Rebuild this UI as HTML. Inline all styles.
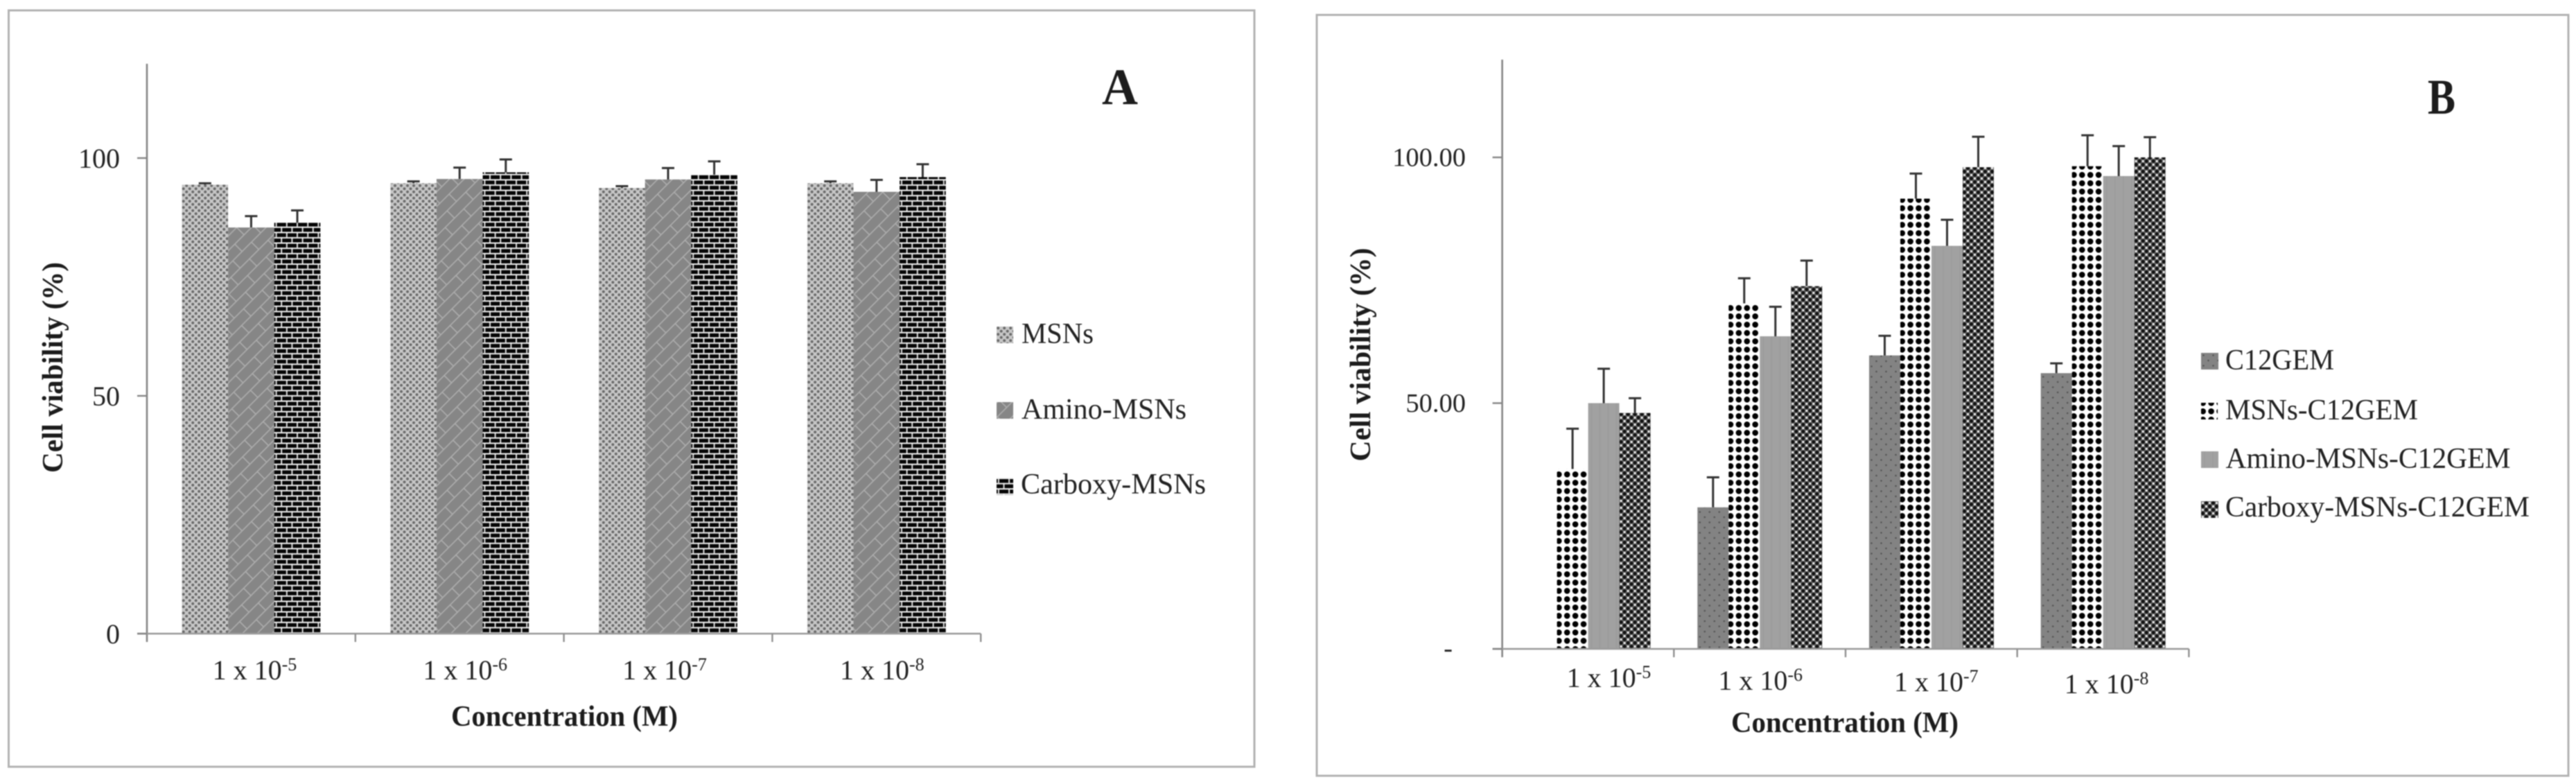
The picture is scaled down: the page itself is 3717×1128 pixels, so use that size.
<!DOCTYPE html>
<html lang="en">
<head>
<meta charset="utf-8">
<title>Cell viability charts</title>
<style>
html,body{margin:0;padding:0;background:#fff;width:3717px;height:1128px;overflow:hidden}
svg{display:block;filter:blur(0.7px)}
text{font-family:"Liberation Serif",serif;fill:#222}
.b{font-weight:bold;fill:#1c1c1c}
</style>
</head>
<body>
<svg id="figure" xmlns="http://www.w3.org/2000/svg" width="3717" height="1128" viewBox="0 0 3717 1128">
<defs>
<pattern id="p-msns" patternUnits="userSpaceOnUse" width="9" height="9">
<rect width="9" height="9" fill="#c6c6c6"/>
<circle cx="2.2" cy="2.2" r="2" fill="#6a6a6a"/>
<circle cx="6.7" cy="6.7" r="2" fill="#6a6a6a"/>
</pattern>
<pattern id="p-amino" patternUnits="userSpaceOnUse" width="38" height="30" patternTransform="rotate(-45)">
<rect width="38" height="30" fill="#868686"/>
<rect y="0" width="38" height="1.6" fill="#adadad"/>
<rect y="15" width="38" height="1.6" fill="#adadad"/>
<rect x="4" y="0" width="1.6" height="15" fill="#adadad"/>
<rect x="23" y="15" width="1.6" height="15" fill="#adadad"/>
</pattern>
<pattern id="p-carboxy" patternUnits="userSpaceOnUse" width="15.2" height="15.2">
<rect width="15.2" height="15.2" fill="#060606"/>
<rect y="0" width="15.2" height="2" fill="#f2f2f2"/>
<rect y="7.6" width="15.2" height="2" fill="#f2f2f2"/>
<rect x="2" y="0" width="1.8" height="7.6" fill="#f2f2f2"/>
<rect x="9.6" y="7.6" width="1.8" height="7.6" fill="#f2f2f2"/>
</pattern>
<pattern id="p-c12" patternUnits="userSpaceOnUse" width="14" height="15">
<rect width="14" height="15" fill="#838383"/>
<circle cx="3.5" cy="3.5" r="1.3" fill="#555"/>
<circle cx="10.5" cy="11" r="1.3" fill="#555"/>
</pattern>
<pattern id="p-msnsc12" patternUnits="userSpaceOnUse" width="11.9" height="12">
<rect width="11.9" height="12" fill="#fff"/>
<circle cx="2.7" cy="0.3" r="4.3" fill="#000"/>
<circle cx="14.6" cy="0.3" r="4.3" fill="#000"/>
<circle cx="2.7" cy="12.3" r="4.3" fill="#000"/>
<circle cx="14.6" cy="12.3" r="4.3" fill="#000"/>
</pattern>
<pattern id="p-aminoc12" patternUnits="userSpaceOnUse" width="12" height="12">
<rect width="12" height="12" fill="#a1a1a1"/>
<rect x="4" width="2" height="12" fill="#9c9c9c"/>
</pattern>
<pattern id="p-carboxyc12" patternUnits="userSpaceOnUse" width="10" height="10">
<rect width="10" height="10" fill="#606060"/>
<circle cx="7.5" cy="2.5" r="2.5" fill="#111"/>
<circle cx="2.5" cy="7.5" r="2.5" fill="#111"/>
<circle cx="2.5" cy="2.5" r="1.6" fill="#eee"/>
<circle cx="7.5" cy="7.5" r="1.6" fill="#eee"/>
</pattern>
</defs>

<rect width="3717" height="1128" fill="#fff"/>
<rect x="12.5" y="15" width="1797.5" height="1091" fill="#fff" stroke="#b2b2b2" stroke-width="3"/>
<rect x="1900" y="21.5" width="1806" height="1097.5" fill="#fff" stroke="#b2b2b2" stroke-width="3"/>

<g id="panel-a"></g>
<g id="panel-b"></g>

<text class="b" x="1590" y="150" font-size="74" textLength="52" lengthAdjust="spacingAndGlyphs">A</text>
<text class="b" x="3503" y="164" font-size="72" textLength="40" lengthAdjust="spacingAndGlyphs">B</text>

<text class="b" x="651" y="1047" font-size="42" textLength="327" lengthAdjust="spacingAndGlyphs">Concentration (M)</text>
<text class="b" x="2498" y="1056" font-size="42" textLength="328" lengthAdjust="spacingAndGlyphs">Concentration (M)</text>
<text class="b" transform="translate(90 682) rotate(-90)" font-size="42" textLength="304" lengthAdjust="spacingAndGlyphs">Cell viability (%)</text>
<text class="b" transform="translate(1977 665.5) rotate(-90)" font-size="42" textLength="308" lengthAdjust="spacingAndGlyphs">Cell viability (%)</text>

<g>
<g>
<rect transform="translate(1438 471)" width="24" height="24" fill="url(#p-msns)"/>
<text x="1474" y="495" font-size="42" textLength="104" lengthAdjust="spacingAndGlyphs">MSNs</text>
</g>
<g>
<rect transform="translate(1438 580)" width="24" height="24" fill="url(#p-amino)"/>
<text x="1474" y="604" font-size="42" textLength="238" lengthAdjust="spacingAndGlyphs">Amino-MSNs</text>
</g>
<g>
<rect transform="translate(1438 689)" width="24" height="25" fill="url(#p-carboxy)"/>
<text x="1473" y="712" font-size="42" textLength="267" lengthAdjust="spacingAndGlyphs">Carboxy-MSNs</text>
</g>
</g>

<g>
<g>
<rect transform="translate(3176 509)" width="25" height="24" fill="url(#p-c12)"/>
<text x="3211" y="533" font-size="42" textLength="157" lengthAdjust="spacingAndGlyphs">C12GEM</text>
</g>
<g>
<rect transform="translate(3176 581)" width="24" height="24" fill="url(#p-msnsc12)"/>
<text x="3211" y="605" font-size="42" textLength="278" lengthAdjust="spacingAndGlyphs">MSNs-C12GEM</text>
</g>
<g>
<rect transform="translate(3176 651)" width="25" height="24" fill="url(#p-aminoc12)"/>
<text x="3211.5" y="675" font-size="42" textLength="411" lengthAdjust="spacingAndGlyphs">Amino-MSNs-C12GEM</text>
</g>
<g>
<rect transform="translate(3176 723)" width="25" height="24" fill="url(#p-carboxyc12)"/>
<text x="3211" y="745" font-size="42" textLength="439" lengthAdjust="spacingAndGlyphs">Carboxy-MSNs-C12GEM</text>
</g>
</g>

<script>
// Shared categories
const categoryBase = ['1 x 10', '1 x 10', '1 x 10', '1 x 10'];
const categoryExponents = ['-5', '-6', '-7', '-8'];

// Panel A data
const aSeriesKeys = ['msns', 'amino-msns', 'carboxy-msns'];
const aMsnsValues = [94.4, 94.7, 93.7, 94.7];
const aMsnsErrors = [0.3, 0.4, 0.4, 0.4];
const aAminoValues = [85.4, 95.6, 95.5, 92.9];
const aAminoErrors = [2.4, 2.4, 2.4, 2.5];
const aCarboxyValues = [86.4, 97.0, 96.5, 96.0];
const aCarboxyErrors = [2.6, 2.7, 2.8, 2.7];
const aTickValues = [0, 50, 100];
const aTickLabels = ['0', '50', '100'];

// Panel B data
const bSeriesKeys = ['c12gem', 'msns-c12gem', 'amino-msns-c12gem', 'carboxy-msns-c12gem'];
const bC12Values = [0, 28.8, 59.7, 56.1];
const bC12Errors = [0, 6.1, 4.0, 2.0];
const bMsnsValues = [36.6, 70.3, 91.6, 98.2];
const bMsnsErrors = [8.2, 5.1, 5.1, 6.3];
const bAminoValues = [50.0, 63.6, 82.0, 96.2];
const bAminoErrors = [7.0, 6.0, 5.3, 6.1];
const bCarboxyValues = [48.0, 73.8, 98.0, 100.0];
const bCarboxyErrors = [3.0, 5.2, 6.2, 4.1];
const bTickValues = [0, 50, 100];
const bTickLabels = ['-', '50.00', '100.00'];

const NS = 'http://www.w3.org/2000/svg';
function make(tag, parent, attrs) {
  const node = document.createElementNS(NS, tag);
  Object.keys(attrs).forEach(function (k) { node.setAttribute(k, attrs[k]); });
  parent.appendChild(node);
  return node;
}

function drawChart(cfg) {
  const root = document.getElementById(cfg.id);
  const yScale = function (v) { return cfg.baseY - v * cfg.pxPerUnit; };
  const groupLeft = function (i) { return cfg.axisX + i * cfg.groupW; };
  const barLeft = function (i, s) { return groupLeft(i) + cfg.barOffset + s * cfg.barW; };

  // bars then error bars
  cfg.series.forEach(function (series, s) {
    series.values.forEach(function (v, i) {
      if (v <= 0) { return; }
      const bx = barLeft(i, s);
      const top = yScale(v);
      const bar = make('rect', root, {
        transform: 'translate(' + bx + ' 0)', x: 0, y: top,
        width: cfg.barW, height: cfg.baseY - top, fill: 'url(#' + series.pattern + ')'
      });
      
      
    });
  });
  cfg.series.forEach(function (series, s) {
    series.values.forEach(function (v, i) {
      if (v <= 0) { return; }
      const cx = barLeft(i, s) + cfg.barW / 2;
      const yTop = yScale(v + series.errors[i]);
      const err = make('path', root, {
        d: 'M' + (cx - 9) + ' ' + yTop + 'H' + (cx + 9) + 'M' + cx + ' ' + yTop + 'V' + yScale(v),
        fill: 'none', stroke: '#333', 'stroke-width': 3
      });
      
      
    });
  });

  // axes
  const xEnd = groupLeft(categoryBase.length);
  const yAxis = make('line', root, {
    x1: cfg.axisX, x2: cfg.axisX, y1: cfg.axisTop, y2: cfg.baseY + 12,
    stroke: '#858585', 'stroke-width': 2.6
  });
  
  
  const xAxis = make('line', root, {
    x1: cfg.axisX - cfg.tickLen, x2: xEnd, y1: cfg.baseY, y2: cfg.baseY,
    stroke: '#9a9a9a', 'stroke-width': 2.6
  });
  
  

  // y ticks
  cfg.tickValues.forEach(function (t, k) {
    const ty = yScale(t);
    const tick = make('line', root, {
      x1: cfg.axisX - cfg.tickLen, x2: cfg.axisX, y1: ty, y2: ty,
      stroke: '#858585', 'stroke-width': 2.4
    });
    
    
    const isDash = cfg.tickLabels[k] === '-';
    const lab = make('text', root, {
      x: isDash ? cfg.tickRight - 19 : cfg.tickRight,
      y: isDash ? ty + 11.5 : ty + cfg.tickDrop,
      'font-size': cfg.tickFont, 'text-anchor': 'end', fill: '#333'
    });
    lab.textContent = cfg.tickLabels[k];
    
    
  });

  // x ticks
  for (let i = 1; i <= categoryBase.length; i++) {
    const tx = groupLeft(i);
    const xt = make('line', root, {
      x1: tx, x2: tx, y1: cfg.baseY, y2: cfg.baseY + 12,
      stroke: '#8f8f8f', 'stroke-width': 2.4
    });
    
    
  }

  // x labels
  categoryBase.forEach(function (base, i) {
    const lab = make('text', root, {
      x: groupLeft(i) + cfg.groupW / 2 + cfg.labelNudgeX[i],
      y: cfg.labelY[i], 'font-size': 40, 'text-anchor': 'middle', fill: '#222'
    });
    
    
    const t1 = make('tspan', lab, {});
    t1.textContent = base;
    const t2 = make('tspan', lab, { dy: -13, 'font-size': 26 });
    t2.textContent = categoryExponents[i];
  });
}

drawChart({
  id: 'panel-a', prefix: 'panel-a',
  axisX: 212, axisTop: 92, baseY: 914, pxPerUnit: 6.86,
  groupW: 300.8, barOffset: 50.5, barW: 66.6, tickLen: 14,
  tickValues: aTickValues, tickLabels: aTickLabels,
  tickRight: 173, tickDrop: 14, tickFont: 40,
  labelNudgeX: [5, 8, -5, 8], labelY: [980, 980, 980, 980],
  series: [
    { key: aSeriesKeys[0], pattern: 'p-msns', values: aMsnsValues, errors: aMsnsErrors },
    { key: aSeriesKeys[1], pattern: 'p-amino', values: aAminoValues, errors: aAminoErrors },
    { key: aSeriesKeys[2], pattern: 'p-carboxy', values: aCarboxyValues, errors: aCarboxyErrors }
  ]
});

drawChart({
  id: 'panel-b', prefix: 'panel-b',
  axisX: 2167.6, axisTop: 86, baseY: 936, pxPerUnit: 7.09,
  groupW: 247.7, barOffset: 34, barW: 45, tickLen: 14,
  tickValues: bTickValues, tickLabels: bTickLabels,
  tickRight: 2115, tickDrop: 12.5, tickFont: 38.5,
  labelNudgeX: [30, 1, 7, 5], labelY: [991, 995, 997, 1000],
  series: [
    { key: bSeriesKeys[0], pattern: 'p-c12', values: bC12Values, errors: bC12Errors },
    { key: bSeriesKeys[1], pattern: 'p-msnsc12', values: bMsnsValues, errors: bMsnsErrors },
    { key: bSeriesKeys[2], pattern: 'p-aminoc12', values: bAminoValues, errors: bAminoErrors },
    { key: bSeriesKeys[3], pattern: 'p-carboxyc12', values: bCarboxyValues, errors: bCarboxyErrors }
  ]
});
</script>
</svg>
</body>
</html>
